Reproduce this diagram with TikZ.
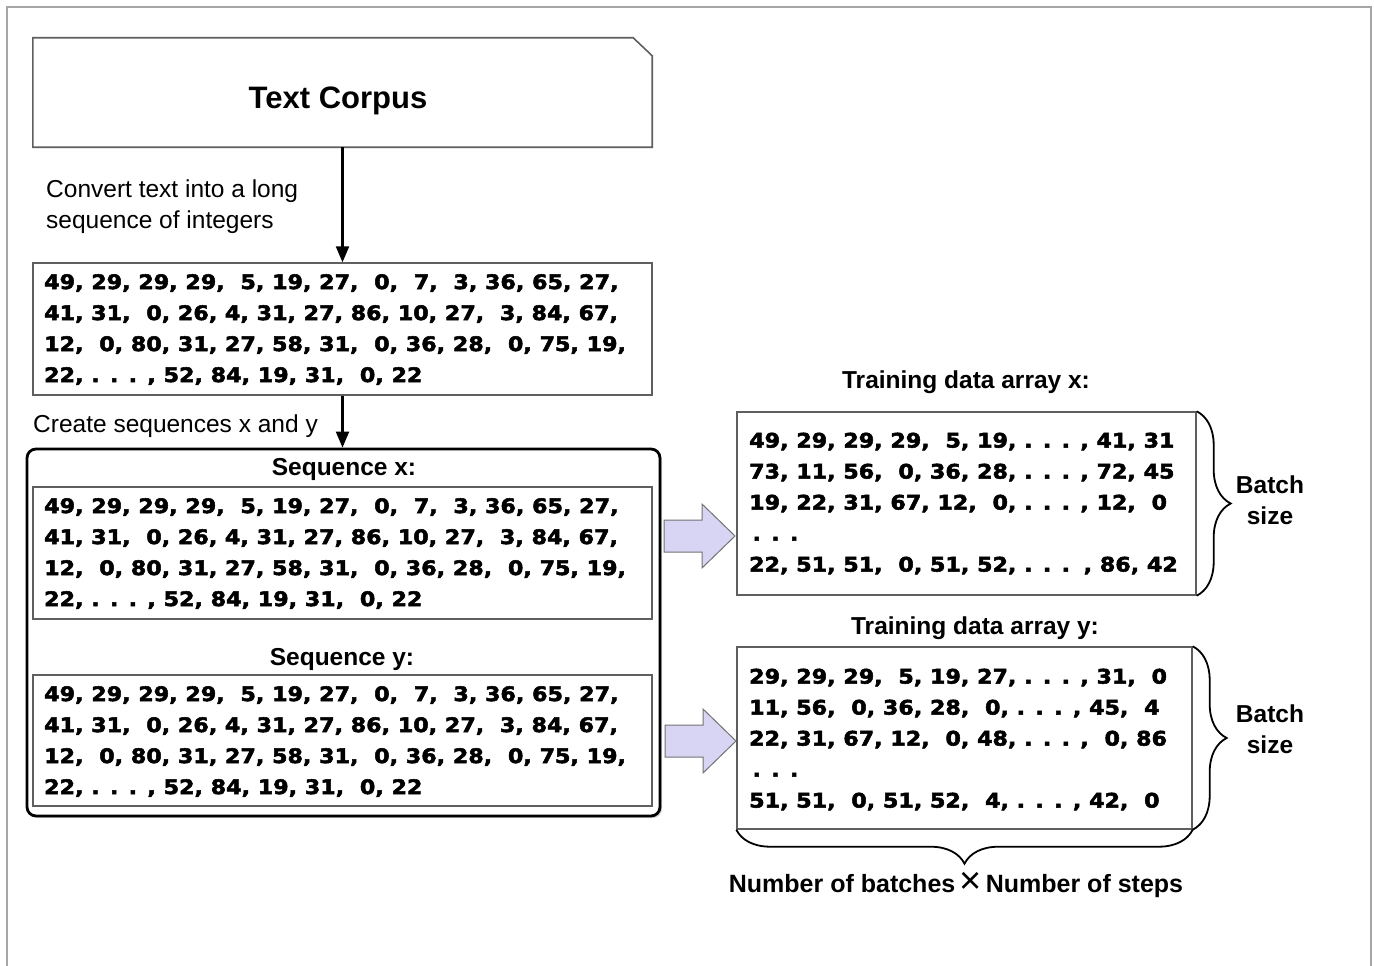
\documentclass[tikz,border=0pt]{standalone}
\usepackage{fontspec}
\setmainfont{Liberation Sans}
\newfontfamily\numfont{DejaVu Sans Bold}[FakeStretch=1.11, FakeBold=2.6]
\usetikzlibrary{arrows.meta,decorations.pathreplacing,shadows}
\definecolor{arrowfill}{RGB}{216,212,244}
\definecolor{boxline}{RGB}{95,95,95}
\newcommand\zz{\hspace{8pt}}
\begin{document}
\begin{tikzpicture}[x=1pt,y=-1pt,
  box/.style={draw=boxline, line width=1.4pt, fill=white, inner sep=0pt},
  nums/.style={font=\numfont\fontsize{20}{31}\selectfont, align=left, inner sep=0pt, anchor=north west},
  lbl/.style={font=\fontsize{24.5}{31}\selectfont, inner sep=0pt},
  ttl/.style={font=\bfseries\fontsize{24.5}{31}\selectfont, inner sep=0pt},
  conn/.style={line width=2.2pt, -{Triangle[length=16pt,width=13pt]}},
  barrow/.style={draw=black!55, fill=arrowfill, line width=1pt, line join=miter},
  brc/.style={decorate, decoration={brace, amplitude=34pt}, line width=1.8pt}]
\useasboundingbox (0,0) rectangle (1374,966);
\fill[white] (0,0) rectangle (1374,966);
\draw[black!35, line width=1.2pt] (7,966) -- (7,7) -- (1371,7) -- (1371,966);

% Text corpus
\node[inner sep=0pt, minimum width=619pt, minimum height=109pt] (corpus) at (342.5,92.5) {};
\draw[boxline, line width=1.6pt, fill=white] (corpus.south west) -- (corpus.north west)
  -- ([xshift=-19pt]corpus.north east) -- ([yshift=-18pt]corpus.north east)
  -- (corpus.south east) -- cycle;
\node[font=\bfseries\fontsize{31}{36}\selectfont, inner sep=0pt, anchor=base] (corpuslbl) at (338,109) {Text Corpus};

% long sequence
\node[box, minimum width=619pt, minimum height=132pt] (seq) at (342.5,329) {};
\node[nums] (seqtxt) at (44,274) {49, 29, 29, 29, \zz5, 19, 27, \zz0, \zz7, \zz3, 36, 65, 27,\\
41, 31, \zz0, 26, 4, 31, 27, 86, 10, 27, \zz3, 84, 67,\\
12, \zz0, 80, 31, 27, 58, 31, \zz0, 36, 28, \zz0, 75, 19,\\
22, . . . , 52, 84, 19, 31, \zz0, 22};
\draw[conn] (corpus.south) -- (seq.north);
\node[lbl, anchor=north west, align=left] (convlbl) at (46,180) {Convert text into a long\\sequence of integers};

% outer container
\node[draw, line width=2.8pt, rounded corners=9pt, fill=white,
  drop shadow={shadow xshift=2pt, shadow yshift=-2pt, fill=black!35},
  minimum width=633pt, minimum height=367pt, inner sep=0pt] (outer) at (343.5,632.5) {};
\draw[conn] (seq.south) -- (seq.south |- outer.north);
\node[lbl, anchor=base west] (createlbl) at (33,432) {Create sequences x and y};

\node[ttl, anchor=base] (seqxlbl) at (344,475) {Sequence x:};
\node[box, minimum width=619pt, minimum height=132pt] (seqx) at (342.5,553) {};
\node[nums] (seqxtxt) at (44,498) {49, 29, 29, 29, \zz5, 19, 27, \zz0, \zz7, \zz3, 36, 65, 27,\\
41, 31, \zz0, 26, 4, 31, 27, 86, 10, 27, \zz3, 84, 67,\\
12, \zz0, 80, 31, 27, 58, 31, \zz0, 36, 28, \zz0, 75, 19,\\
22, . . . , 52, 84, 19, 31, \zz0, 22};

\node[ttl, anchor=base] (seqylbl) at (342,665) {Sequence y:};
\node[box, minimum width=619pt, minimum height=131pt] (seqy) at (342.5,740.5) {};
\node[nums] (seqytxt) at (44,686) {49, 29, 29, 29, \zz5, 19, 27, \zz0, \zz7, \zz3, 36, 65, 27,\\
41, 31, \zz0, 26, 4, 31, 27, 86, 10, 27, \zz3, 84, 67,\\
12, \zz0, 80, 31, 27, 58, 31, \zz0, 36, 28, \zz0, 75, 19,\\
22, . . . , 52, 84, 19, 31, \zz0, 22};

% block arrows
\coordinate (bax) at (664,536);
\coordinate (bay) at (665,741);
\foreach \c in {bax,bay}
  \draw[barrow] (\c) ++(0,-16) -- ++(38,0) -- ++(0,-16) -- ++(33,32) -- ++(-33,32)
    -- ++(0,-16) -- ++(-38,0) -- cycle;

% training x
\node[ttl, anchor=base] (txlbl) at (966,388) {Training data array x:};
\node[box, minimum width=459pt, minimum height=183pt] (tx) at (966.5,503.5) {};
\node[nums] (txtxt) at (749,432.5) {49, 29, 29, 29, \zz5, 19, . . . , 41, 31\\
73, 11, 56, \zz0, 36, 28, . . . , 72, 45\\
19, 22, 31, 67, 12, \zz0, . . . , 12, \zz0\\
\,. . .\\
22, 51, 51, \zz0, 51, 52, . . . \,, 86, 42};
\draw[brc] (tx.north east) -- (tx.south east);
\node[ttl, align=center] (bsx) at (1270,500.5) {Batch\\size};

% training y
\node[ttl, anchor=base] (tylbl) at (975,634) {Training data array y:};
\node[box, minimum width=455pt, minimum height=182pt] (ty) at (964.5,738) {};
\node[nums] (tytxt) at (749,668.5) {29, 29, 29, \zz5, 19, 27, . . . , 31, \zz0\\
11, 56, \zz0, 36, 28, \zz0, . . . , 45, \zz4\\
22, 31, 67, 12, \zz0, 48, . . . , \zz0, 86\\
\,. . .\\
51, 51, \zz0, 51, 52, \zz4, . . . , 42, \zz0};
\draw[brc] (ty.north east) -- (ty.south east);
\node[ttl, align=center] (bsy) at (1270,729.5) {Batch\\size};

\draw[brc] (ty.south east) -- (ty.south west);
\node[font=\bfseries\fontsize{25}{30}\selectfont, inner sep=0pt, anchor=base] (nblbl) at (956,892)
  {Number of batches\,{\mdseries\fontsize{38}{30}\selectfont\raisebox{-1pt}{×}}\,Number of steps};
\end{tikzpicture}
\end{document}
